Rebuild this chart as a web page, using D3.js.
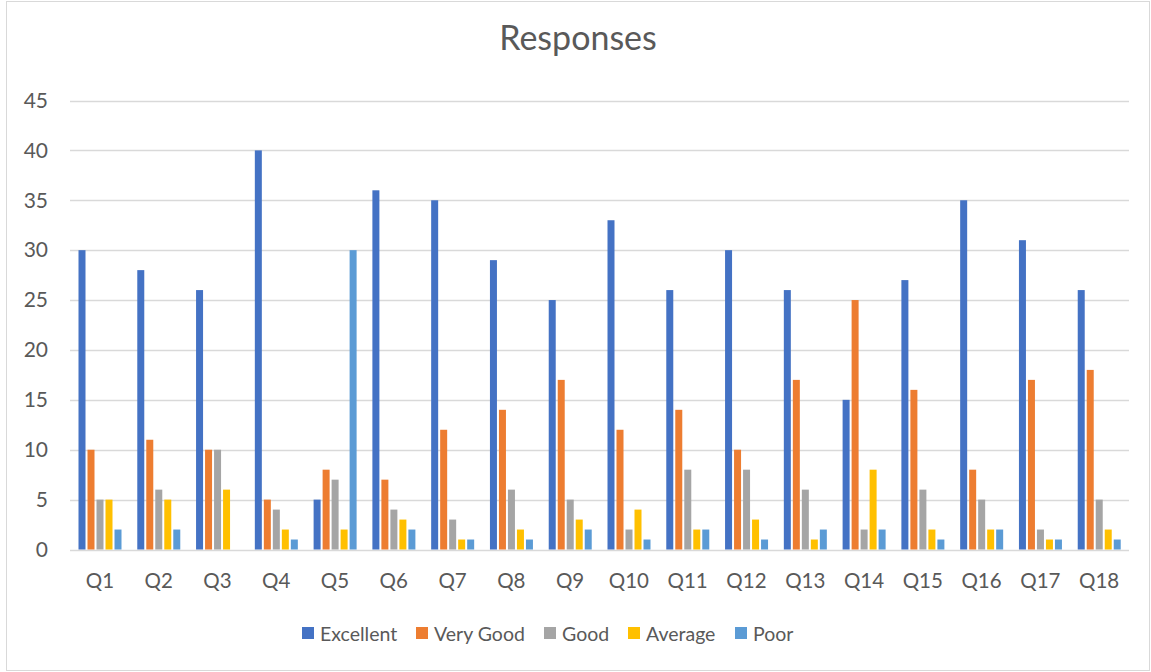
<!DOCTYPE html>
<html>
<head>
<meta charset="utf-8">
<script src="https://cdn.jsdelivr.net/npm/d3@7"></script>
<style>
  html, body { margin: 0; padding: 0; background: #fff; }
  svg { display: block; }
  text { font-family: Lato, "Open Sans", sans-serif; fill: #595959; }
</style>
</head>
<body>
<svg id="chart" width="1151" height="672"></svg>
<script>
const categories = ["Q1","Q2","Q3","Q4","Q5","Q6","Q7","Q8","Q9","Q10","Q11","Q12","Q13","Q14","Q15","Q16","Q17","Q18"];
const seriesNames = ["Excellent","Very Good","Good","Average","Poor"];
const excellent = [30,28,26,40,5,36,35,29,25,33,26,30,26,15,27,35,31,26];
const veryGood  = [10,11,10,5,8,7,12,14,17,12,14,10,17,25,16,8,17,18];
const good      = [5,6,10,4,7,4,3,6,5,2,8,8,6,2,6,5,2,5];
const average   = [5,5,6,2,2,3,1,2,3,4,2,3,1,8,2,2,1,2];
const poor      = [2,2,0,1,30,2,1,1,2,1,2,1,2,2,1,2,1,1];
const colors = ["#4472C4","#ED7D31","#A5A5A5","#FFC000","#5B9BD5"];
const yTicks = [0,5,10,15,20,25,30,35,40,45];
const title = "Responses";

const seriesValues = [excellent, veryGood, good, average, poor];

const svg = d3.select("#chart");
const W = 1151, H = 672;

// border
svg.append("rect").attr("x", 6.5).attr("y", 1.5).attr("width", W - 8).attr("height", H - 3)
  .attr("fill", "#fff").attr("stroke", "#D9D9D9").attr("stroke-width", 1);

const x0 = d3.scaleBand().domain(categories).range([70.5, 1128.5]).padding(0);
const x1 = d3.scaleBand().domain(seriesNames).range([7, 52]).padding(0);
const y = d3.scaleLinear().domain([0, 45]).range([549.5, 100.5]);

// gridlines
svg.append("g").selectAll("line").data(yTicks).join("line")
  .attr("x1", 70).attr("x2", 1129)
  .attr("y1", d => Math.round(y(d)) + 0.5).attr("y2", d => Math.round(y(d)) + 0.5)
  .attr("stroke", "#D9D9D9").attr("stroke-width", 1.3);

// y axis labels
const yAxis = d3.axisLeft(y).tickValues(yTicks).tickSize(0).tickPadding(0);
const gy = svg.append("g").attr("transform", "translate(48,0)").call(yAxis);
gy.select(".domain").remove();
gy.selectAll("text").attr("font-size", 21).attr("fill", "#595959")
  .attr("font-family", "Lato, 'Open Sans', sans-serif");

// bars
const groups = svg.append("g").selectAll("g").data(categories).join("g")
  .attr("transform", d => `translate(${x0(d)},0)`);
groups.selectAll("rect")
  .data((c, i) => seriesNames.map((s, j) => ({ s, j, v: seriesValues[j][i] })))
  .join("rect")
  .attr("x", d => x1(d.s) + 1)
  .attr("width", x1.bandwidth() - 2)
  .attr("y", d => y(d.v))
  .attr("height", d => y(0) - y(d.v))
  .attr("fill", (d) => colors[d.j]);

// x axis labels
const xAxis = d3.axisBottom(x0).tickSize(0).tickPadding(0);
const gx = svg.append("g").attr("transform", "translate(0,573)").call(xAxis);
gx.select(".domain").remove();
gx.selectAll("text").attr("font-size", 20.5).attr("fill", "#595959")
  .attr("font-family", "Lato, 'Open Sans', sans-serif");

// title
svg.append("text").attr("x", 578).attr("y", 50).attr("text-anchor", "middle")
  .attr("font-size", 34).text(title);

// legend
const legendX = [302, 416, 544, 628, 735];
const leg = svg.append("g").selectAll("g").data(seriesNames).join("g")
  .attr("transform", (d, i) => `translate(${legendX[i]},627)`);
leg.append("rect").attr("width", 12).attr("height", 12).attr("fill", (d, i) => colors[i]);
leg.append("text").attr("x", 18).attr("y", 13.5).attr("font-size", 19.5).text(d => d);
</script>
</body>
</html>
